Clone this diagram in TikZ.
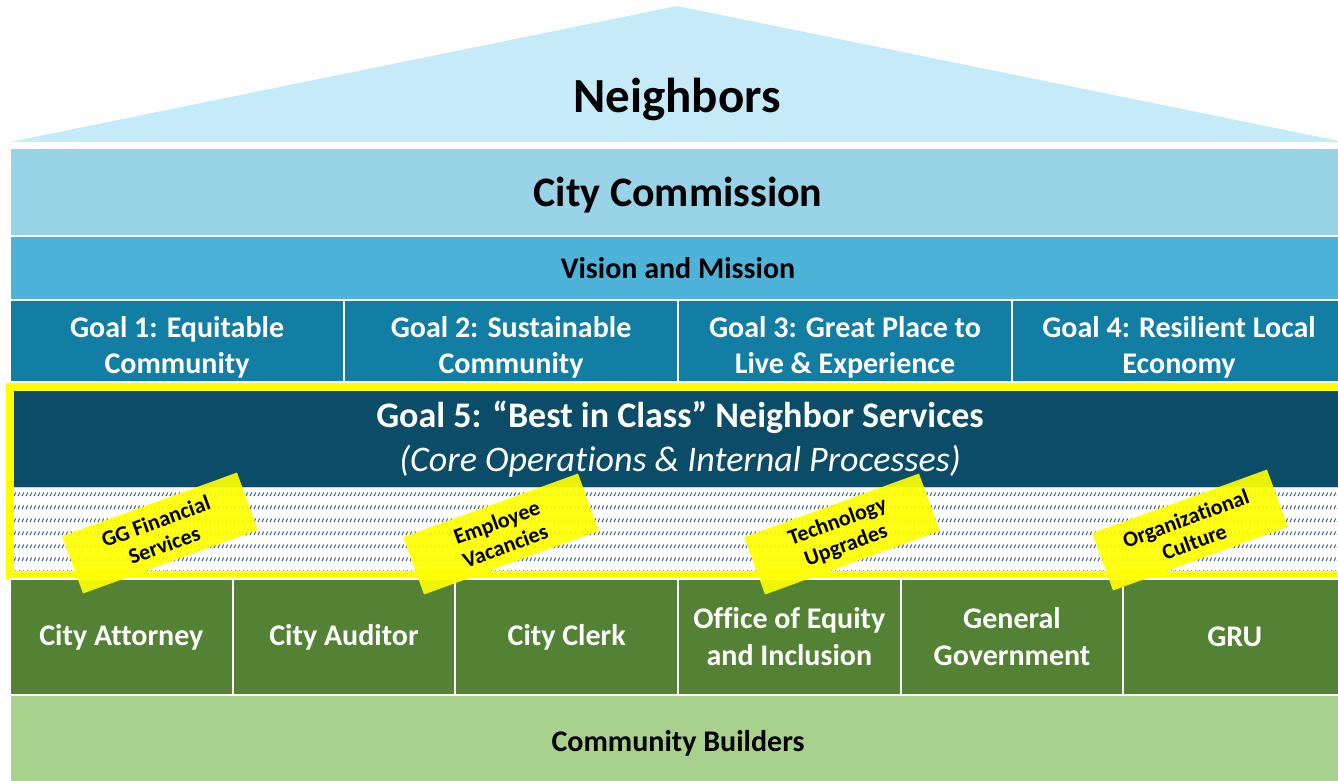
\documentclass[tikz,border=0pt]{standalone}
\usepackage{fontspec}
\setmainfont[Ligatures=NoCommon]{Carlito}
\usetikzlibrary{patterns}

\definecolor{roofblue}{HTML}{C5EAF8}
\definecolor{commblue}{HTML}{98D3E8}
\definecolor{visionblue}{HTML}{4DB3D9}
\definecolor{goalteal}{HTML}{127EA4}
\definecolor{navy}{HTML}{0B4C69}
\definecolor{deptgreen}{HTML}{548235}
\definecolor{buildgreen}{HTML}{A9D18E}
\definecolor{hatchblue}{HTML}{2A5686}
\definecolor{stickyyellow}{HTML}{FFFF00}

% rows of short slashes for the support band
\pgfdeclarepatternformonly{slashrows}{\pgfqpoint{0pt}{0pt}}{\pgfqpoint{2.2pt}{6.35pt}}{\pgfqpoint{2.2pt}{6.35pt}}{%
  \pgfsetlinewidth{0.5pt}
  \pgfpathmoveto{\pgfqpoint{0.6pt}{2.0pt}}
  \pgfpathlineto{\pgfqpoint{1.5pt}{3.8pt}}
  \pgfusepath{stroke}}

\tikzset{
  cell/.style={anchor=north west, inner sep=0pt, outer sep=0pt, draw=white,
    line width=1pt, text=white, align=center, font=\bfseries},
  celltext/.style={text=white, align=center, inner sep=0pt},
  sticky/.style={fill=stickyyellow, fill opacity=0.92, text opacity=1,
    minimum width=93pt, minimum height=30.5pt, inner sep=0pt, rotate=20,
    align=center, font=\bfseries\fontsize{11}{12.5}\selectfont},
}

\begin{document}
\begin{tikzpicture}[x=0.5pt, y=-0.5pt]
\useasboundingbox (0,0) rectangle (1338,781);

% roof
\fill[roofblue] (10,142) -- (677,6) -- (1344,142) -- cycle;
\node[font=\bfseries\fontsize{24.5}{28}\selectfont] (roof) at (677,99) {Neighbors};

% top bands
\node[cell, fill=commblue, minimum width=668pt, minimum height=44pt] (comm) at (10,148) {};
\node[celltext, text=black, font=\bfseries\fontsize{21}{24}\selectfont]
  at ([yshift=-1.5pt]comm.center) {City Commission};
\node[cell, fill=visionblue, text=black, minimum width=668pt, minimum height=32pt,
  font=\bfseries\fontsize{15}{18}\selectfont] (vision) at (10,236) {Vision and Mission};

% goals 1--4
\foreach \txt [count=\i from 0] in {{Goal 1: Equitable\\Community}, {Goal 2: Sustainable\\Community},
    {Goal 3: Great Place to\\Live \& Experience}, {Goal 4: Resilient Local\\Economy}}
{
  \node[cell, fill=goalteal, minimum width=167pt, minimum height=41pt] (g\i) at ({10+334*\i},300) {};
  \node[celltext, font=\bfseries\fontsize{15}{18}\selectfont] at ([yshift=-3pt]g\i.center) {\txt};
}

% goal 5 and its support band
\node[cell, draw=none, fill=navy, minimum width=666pt, minimum height=48pt,
  font=\fontsize{18}{22}\selectfont] (g5) at (14,391)
  {\textbf{Goal 5: “Best in Class” Neighbor Services}\\\textit{(Core Operations \& Internal Processes)}};
\node[cell, draw=none, fill=white, minimum width=666pt, minimum height=42pt,
  postaction={pattern=slashrows, pattern color=hatchblue}] (hatch) at (14,487) {};
\draw[gray!35, line width=0.5pt] (hatch.north west) -- (hatch.north east);

% highlight frame
\node[anchor=north west, draw=stickyyellow, line width=4pt, inner sep=0pt, outer sep=0pt,
  minimum width=668pt, minimum height=94pt] (focus) at (9.5,387) {};

% departments
\foreach \txt [count=\i from 0] in {City Attorney, City Auditor, City Clerk,
    {Office of Equity\\and Inclusion}, {General\\Government}, GRU}
  \node[cell, fill=deptgreen, minimum width=111.33pt, minimum height=58pt,
    font=\bfseries\fontsize{15}{18.5}\selectfont] (d\i) at ({10+222.67*\i},579) {\txt};

\node[cell, fill=buildgreen, minimum width=668pt, minimum height=44pt] (build) at (10,695) {};
\node[celltext, text=black, font=\bfseries\fontsize{15}{18}\selectfont]
  at ([yshift=-2pt]build.center) {Community Builders};

% sticky notes
\node[sticky] (s1) at (160,533) {GG Financial\\Services};
\node[sticky] (s2) at (501,534) {Employee\\Vacancies};
\node[sticky] (s3) at (842,534) {Technology\\Upgrades};
\node[sticky] (s4) at (1190,530) {Organizational\\Culture};
\end{tikzpicture}
\end{document}
